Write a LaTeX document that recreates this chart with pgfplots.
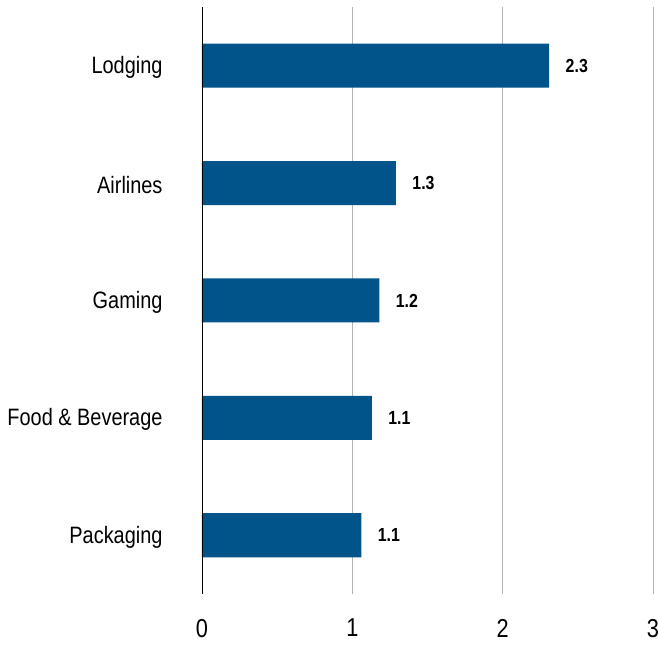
\documentclass[border=0pt]{standalone}
\usepackage{pgfplots}
\pgfplotsset{compat=1.18}
\usepackage{fontspec}
\setmainfont{Liberation Sans}[FakeStretch=0.84]
\definecolor{barblue}{RGB}{0,84,138}
\begin{document}
\begin{tikzpicture}
  \begin{axis}[
    xbar,
    scale only axis,
    width=451bp, height=587bp,
    xmin=0, xmax=3,
    ymin=-0.5, ymax=4.5,
    bar width=0.375,
    bar shift=0pt,
    axis lines*=left,
    x axis line style={draw=none},
    y axis line style={draw=none},
    xmajorgrids,
    grid style={gray!60, line width=0.8pt},
    xtick={0,1,2,3},
    ytick={0,1,2,3,4},
    yticklabels={Packaging, Food \& Beverage, Gaming, Airlines, Lodging},
    major tick length=0pt,
    xticklabel style={font=\fontsize{26}{30}\selectfont, anchor=north,
      inner sep=0pt, text depth=0pt, yshift=-25bp},
    yticklabel style={font=\fontsize{23.8}{28}\selectfont, xshift=-36bp, yshift=-2bp},
    /pgf/number format/assume math mode=true,
    nodes near coords,
    nodes near coords style={font=\bfseries\fontsize{19}{21}\selectfont, anchor=west, xshift=13bp,
      /pgf/number format/.cd, fixed, fixed zerofill, precision=1},
    clip=false,
  ]
  \addplot[fill=barblue, draw=none] coordinates {
    (1.06,0) (1.13,1) (1.18,2) (1.29,3) (2.31,4)
  };
  \draw[black, line width=0.8pt] (axis cs:0,-0.5) -- (axis cs:0,4.5);
  \end{axis}
  \path (current axis.south west) ++(-202bp,-51bp);
  \path (current axis.north east) ++(6bp,7bp);
\end{tikzpicture}
\end{document}
